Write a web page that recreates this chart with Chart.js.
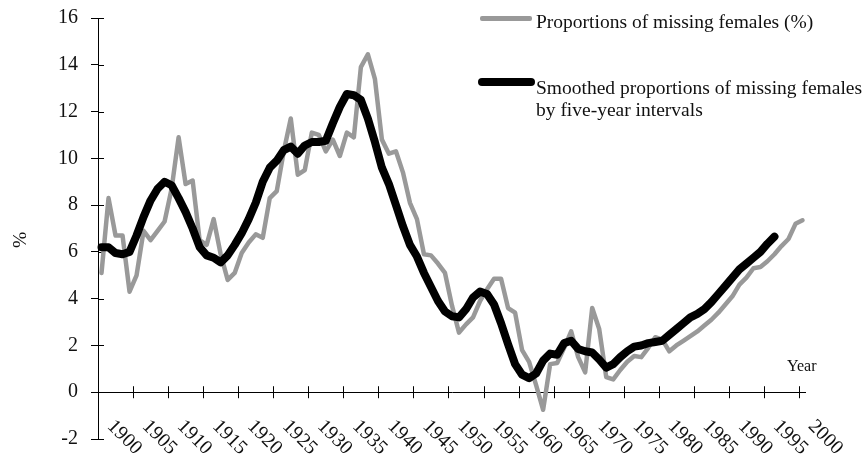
<!DOCTYPE html>
<html>
<head>
<meta charset="utf-8">
<script src="https://cdn.jsdelivr.net/npm/chart.js@4.4.1/dist/chart.umd.min.js"></script>
<style>
  body { margin: 0; background: #fff; }
  #wrap { position: relative; width: 862px; height: 464px; font-family: "Liberation Serif", serif; color: #111; }
  #chart { position: absolute; left: 0; top: 0; }
  .swatch { position: absolute; }
  .txt { position: absolute; font-size: 19.5px; line-height: 22px; white-space: nowrap; }
</style>
</head>
<body>
<div id="wrap">
  <canvas id="chart" width="862" height="464"></canvas>
  <div class="swatch" style="left:480px;top:16px;width:52px;height:5px;background:#999;border-radius:2px"></div>
  <div class="txt" style="left:536px;top:11px">Proportions of missing females (%)</div>
  <div class="swatch" style="left:478px;top:78px;width:57px;height:8px;background:#000;border-radius:4px"></div>
  <div class="txt" style="left:536px;top:77px">Smoothed proportions of missing females<br>by five-year intervals</div>
  <div class="txt" style="left:8px;top:229px;width:24px;text-align:center;transform:rotate(-90deg)">%</div>
  <div class="txt" style="left:787px;top:355px;font-size:16px">Year</div>
</div>
<script>
// categories: one per year
const years = [
  1900, 1901, 1902, 1903, 1904, 1905, 1906, 1907, 1908, 1909,
  1910, 1911, 1912, 1913, 1914, 1915, 1916, 1917, 1918, 1919,
  1920, 1921, 1922, 1923, 1924, 1925, 1926, 1927, 1928, 1929,
  1930, 1931, 1932, 1933, 1934, 1935, 1936, 1937, 1938, 1939,
  1940, 1941, 1942, 1943, 1944, 1945, 1946, 1947, 1948, 1949,
  1950, 1951, 1952, 1953, 1954, 1955, 1956, 1957, 1958, 1959,
  1960, 1961, 1962, 1963, 1964, 1965, 1966, 1967, 1968, 1969,
  1970, 1971, 1972, 1973, 1974, 1975, 1976, 1977, 1978, 1979,
  1980, 1981, 1982, 1983, 1984, 1985, 1986, 1987, 1988, 1989,
  1990, 1991, 1992, 1993, 1994, 1995, 1996, 1997, 1998, 1999,
  2000
];

// proportions of missing females (%), yearly
const missing = [
  5.1, 8.3, 6.7, 6.7, 4.3, 5.0, 6.9, 6.5, 6.9, 7.3,
  8.7, 10.9, 8.9, 9.05, 6.5, 6.3, 7.4, 5.9, 4.8, 5.1,
  5.95, 6.4, 6.75, 6.6, 8.3, 8.6, 10.3, 11.7, 9.3, 9.5,
  11.1, 11.0, 10.3, 10.8, 10.1, 11.1, 10.9, 13.9, 14.45, 13.4,
  10.8, 10.2, 10.3, 9.4, 8.1, 7.4, 5.9, 5.85, 5.5, 5.1,
  3.7, 2.55, 2.9, 3.2, 3.9, 4.4, 4.85, 4.85, 3.6, 3.4,
  1.8, 1.3, 0.3, -0.75, 1.2, 1.25, 1.9, 2.6, 1.5, 0.85,
  3.6, 2.7, 0.65, 0.55, 0.95, 1.3, 1.55, 1.5, 1.9, 2.35,
  2.25, 1.75, 2.0, 2.2, 2.4, 2.6, 2.85, 3.1, 3.4, 3.75,
  4.1, 4.6, 4.9, 5.3, 5.35, 5.6, 5.9, 6.25, 6.55, 7.2,
  7.35
];

// smoothed by five-year intervals (stops in 1996)
const smoothed = [
  6.2, 6.2, 5.95, 5.9, 6.0, 6.7, 7.5, 8.2, 8.7, 9.0,
  8.85, 8.3, 7.7, 7.0, 6.2, 5.85, 5.75, 5.55, 5.85, 6.3,
  6.8, 7.4, 8.1, 9.0, 9.6, 9.9, 10.35, 10.5, 10.2, 10.55,
  10.7, 10.7, 10.75, 11.5, 12.2, 12.75, 12.7, 12.5, 11.7, 10.7,
  9.6, 8.9, 8.0, 7.1, 6.3, 5.8, 5.1, 4.5, 3.9, 3.45,
  3.25, 3.2, 3.55, 4.05, 4.3, 4.2, 3.75, 2.95, 2.05, 1.2,
  0.75, 0.6, 0.8, 1.35, 1.65, 1.6, 2.1, 2.2, 1.85, 1.75,
  1.7, 1.4, 1.05, 1.2, 1.5, 1.75, 1.95, 2.0, 2.1, 2.15,
  2.2, 2.45, 2.7, 2.95, 3.2, 3.35, 3.55, 3.85, 4.2, 4.55,
  4.9, 5.25, 5.5, 5.75, 6.0, 6.35, 6.65
];

const xTickYears = [1900, 1905, 1910, 1915, 1920, 1925, 1930, 1935, 1940, 1945, 1950,
  1955, 1960, 1965, 1970, 1975, 1980, 1985, 1990, 1995, 2000];
const yTicks = [-2, 0, 2, 4, 6, 8, 10, 12, 14, 16];

const FONT = "'Liberation Serif', serif";

// tick marks crossing both axes, like the original
const crossTicks = {
  id: 'crossTicks',
  beforeDatasetsDraw(chart) {
    const { ctx, chartArea, scales } = chart;
    const x = scales.x, y = scales.y;
    const y0 = y.getPixelForValue(0);
    const half = (x.getPixelForValue(1) - x.getPixelForValue(0)) / 2;
    ctx.save();
    ctx.strokeStyle = '#000';
    ctx.lineWidth = 1;
    ctx.beginPath();
    yTicks.forEach((v) => {
      const py = Math.round(y.getPixelForValue(v)) + 0.5;
      ctx.moveTo(chartArea.left, py);
      ctx.lineTo(chartArea.left + 6, py);
    });
    xTickYears.forEach((yr) => {
      const i = years.indexOf(yr);
      if (i <= 0) return;
      const px = Math.round(x.getPixelForValue(i) - half) + 0.5;
      ctx.moveTo(px, y0 - 6);
      ctx.lineTo(px, y0 + 6);
    });
    ctx.stroke();
    ctx.restore();
  },
  afterDraw(chart) {
    // slanted year labels, reading downwards to the right
    const { ctx, scales } = chart;
    const x = scales.x;
    const base = scales.y.getPixelForValue(-2) - 12;
    ctx.save();
    ctx.fillStyle = '#111';
    ctx.font = '20px ' + FONT;
    ctx.textAlign = 'left';
    ctx.textBaseline = 'alphabetic';
    xTickYears.forEach((yr) => {
      const i = years.indexOf(yr);
      ctx.save();
      ctx.translate(x.getPixelForValue(i) + 5, base);
      ctx.rotate(Math.PI / 4);
      ctx.fillText(String(yr), 0, 0);
      ctx.restore();
    });
    ctx.restore();
  }
};

new Chart(document.getElementById('chart'), {
  type: 'line',
  data: {
    labels: years,
    datasets: [
      {
        label: 'Proportions of missing females (%)',
        data: missing,
        borderColor: '#999999',
        borderWidth: 4.5,
        pointRadius: 0,
        tension: 0,
        borderJoinStyle: 'round',
        borderCapStyle: 'round',
        order: 2
      },
      {
        label: 'Smoothed proportions of missing females by five-year intervals',
        data: smoothed,
        borderColor: '#000000',
        borderWidth: 8,
        pointRadius: 0,
        tension: 0,
        borderJoinStyle: 'round',
        borderCapStyle: 'round',
        order: 1
      }
    ]
  },
  options: {
    responsive: false,
    devicePixelRatio: 1,
    animation: false,
    layout: { padding: { top: 18, bottom: 25, right: 56, left: 0 } },
    plugins: { legend: { display: false }, tooltip: { enabled: false } },
    scales: {
      x: {
        type: 'category',
        offset: true,
        display: false
      },
      y: {
        min: -2,
        max: 16,
        afterFit: (scale) => {
          scale.width = 98;
          scale.paddingTop = 0;
          scale.paddingBottom = 0;
        },
        afterBuildTicks: (scale) => { scale.ticks = yTicks.map((v) => ({ value: v })); },
        ticks: { color: '#111', font: { family: FONT, size: 20 }, padding: 13 },
        grid: {
          color: (c) => (c.tick && c.tick.value === 0 ? '#000' : 'rgba(0,0,0,0)'),
          tickColor: '#000',
          tickLength: 7,
          lineWidth: 1
        },
        border: { display: true, color: '#000', width: 1 }
      }
    }
  },
  plugins: [crossTicks]
});
</script>
</body>
</html>
